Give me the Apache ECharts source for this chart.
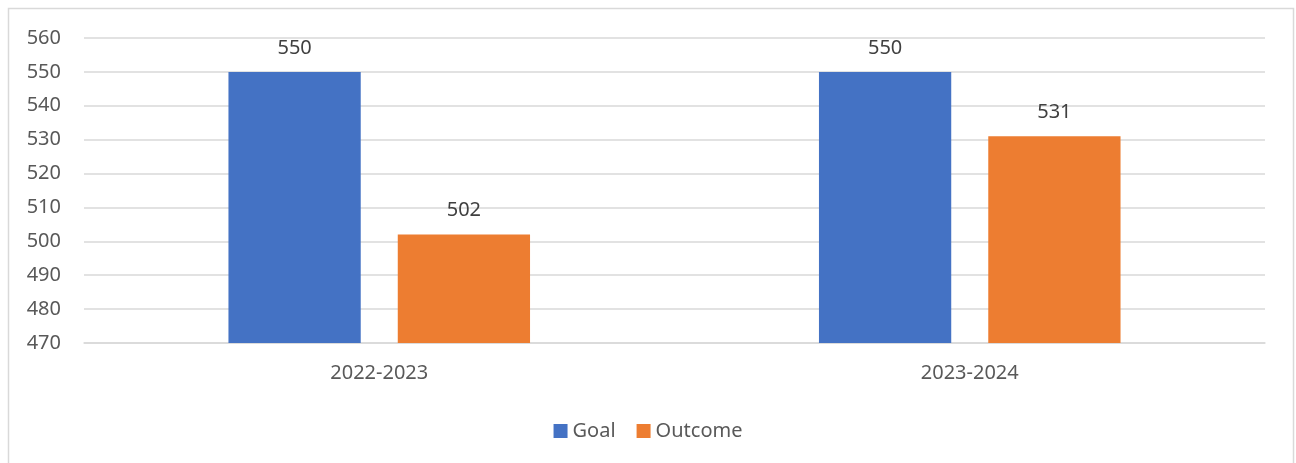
<!DOCTYPE html>
<html>
<head>
<meta charset="utf-8">
<script src="https://cdn.jsdelivr.net/npm/echarts@6/dist/echarts.min.js"></script>
<style>
  html, body { margin: 0; padding: 0; background: #fff; }
  #chart { width: 1296px; height: 463px; }
</style>
</head>
<body>
<div id="chart"></div>
<script>
const categories = ['2022-2023', '2023-2024'];
const goalValues = [550, 550];
const outcomeValues = [502, 531];
const seriesNames = ['Goal', 'Outcome'];

const FONT = '"Noto Sans", "Open Sans", sans-serif';
const chart = echarts.init(document.getElementById('chart'), null, { renderer: 'canvas' });

const labelStyle = {
  show: true,
  position: 'top',
  distance: 14,
  color: '#404040',
  fontSize: 20,
  fontFamily: FONT
};

chart.setOption({
  animation: false,
  backgroundColor: '#fff',
  graphic: [{
    type: 'rect',
    shape: { x: 8.5, y: 8.5, width: 1285, height: 470 },
    style: { fill: 'none', stroke: '#d9d9d9', lineWidth: 1.5 },
    silent: true
  }],
  grid: { left: 84, right: 31, top: 38, bottom: 120, containLabel: false },
  legend: {
    data: seriesNames,
    top: 416,
    left: 'center',
    itemWidth: 14,
    itemHeight: 14,
    itemGap: 21,
    icon: 'rect',
    textStyle: { color: '#595959', fontSize: 20, fontFamily: FONT }
  },
  xAxis: {
    type: 'category',
    data: categories,
    axisLine: { lineStyle: { color: '#d9d9d9', width: 1.5 } },
    axisTick: { show: false },
    axisLabel: { color: '#595959', fontSize: 20, fontFamily: FONT, margin: 20 }
  },
  yAxis: {
    type: 'value',
    min: 470,
    max: 560,
    interval: 10,
    axisLine: { show: false },
    axisTick: { show: false },
    splitLine: { lineStyle: { color: '#d9d9d9', width: 1.5 } },
    axisLabel: { color: '#595959', fontSize: 20, fontFamily: FONT, margin: 23 }
  },
  series: [
    {
      name: seriesNames[0],
      type: 'bar',
      data: goalValues,
      barWidth: '22.4%',
      barGap: '28%',
      itemStyle: { color: '#4472c4' },
      label: labelStyle
    },
    {
      name: seriesNames[1],
      type: 'bar',
      data: outcomeValues,
      barWidth: '22.4%',
      itemStyle: { color: '#ed7d31' },
      label: labelStyle
    }
  ]
});
</script>
</body>
</html>
